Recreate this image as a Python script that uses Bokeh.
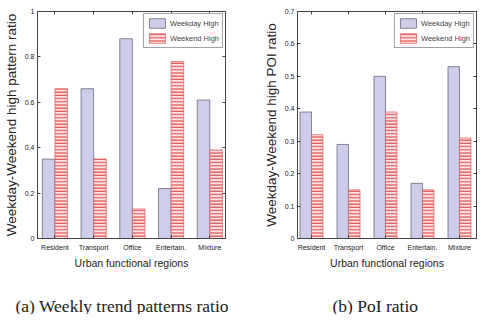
from bokeh.plotting import figure
from bokeh.models import (ColumnDataSource, Range1d, Legend, LegendItem, Label,
                          LinearAxis, FixedTicker)
from bokeh.transform import dodge
from bokeh.layouts import row, column
from bokeh.embed import file_html
from bokeh.resources import INLINE

categories = ["Resident", "Transport", "Office", "Entertain.", "Mixture"]
pattern_weekday = [0.35, 0.66, 0.88, 0.22, 0.61]
pattern_weekend = [0.66, 0.35, 0.13, 0.78, 0.39]
poi_weekday = [0.39, 0.29, 0.50, 0.17, 0.53]
poi_weekend = [0.32, 0.15, 0.39, 0.15, 0.31]
pattern_ticks = [0, 0.2, 0.4, 0.6, 0.8, 1]
poi_ticks = [0, 0.1, 0.2, 0.3, 0.4, 0.5, 0.6, 0.7]
series_names = ["Weekday High", "Weekend High"]
captions = ["(a) Weekly trend patterns ratio", "(b) PoI ratio"]

FONT = "Liberation Sans"
WD_FILL = "#cdcdeb"
WD_LINE = "#5a5a6a"
WE_FILL = "#fbe3e3"
WE_HATCH = "#e25858"
AX = "#444444"


def fmt(v):
    return f"{v:g}"


def mirror_axis(ticks):
    return LinearAxis(ticker=FixedTicker(ticks=ticks),
                      major_label_overrides={t: "" for t in ticks},
                      major_label_standoff=0,
                      major_tick_in=3, major_tick_out=0, minor_tick_line_color=None,
                      axis_line_color=AX, major_tick_line_color=AX)


def make_panel(weekday, weekend, ticks, ymax, ylabel, width, height,
               bl, br, bt, bb, xstart, xend, bw):
    idx = list(range(len(categories)))
    src = ColumnDataSource(dict(x=idx, wd=weekday, we=weekend))
    p = figure(width=width, height=height, output_backend="svg", toolbar_location=None,
               x_range=Range1d(xstart, xend), y_range=Range1d(0, ymax),
               min_border_left=bl, min_border_right=br, min_border_top=bt,
               min_border_bottom=bb)
    p.grid.visible = False
    p.outline_line_color = AX
    p.outline_line_width = 1
    r1 = p.vbar(x=dodge("x", -bw / 2, range=p.x_range), top="wd", width=bw, source=src,
                fill_color=WD_FILL, line_color=WD_LINE, line_width=0.7)
    r2 = p.vbar(x=dodge("x", bw / 2, range=p.x_range), top="we", width=bw, source=src,
                fill_color=WE_FILL, line_color=WE_HATCH, line_width=0.7,
                hatch_pattern="horizontal_line", hatch_color=WE_HATCH,
                hatch_scale=3.2, hatch_weight=1.3)

    xa = p.xaxis[0]
    xa.ticker = FixedTicker(ticks=idx)
    xa.major_label_overrides = {i: c for i, c in zip(idx, categories)}
    xa.axis_label = "Urban functional regions"
    ya = p.yaxis[0]
    ya.ticker = FixedTicker(ticks=ticks)
    ya.major_label_overrides = {t: fmt(t) for t in ticks}
    ya.axis_label = ylabel
    for ax in (xa, ya):
        ax.major_tick_in = 3
        ax.major_tick_out = 0
        ax.minor_tick_line_color = None
        ax.axis_line_color = AX
        ax.major_tick_line_color = AX
        ax.major_label_text_font = FONT
        ax.major_label_text_font_size = "7px"
        ax.major_label_text_color = "#222222"
        ax.axis_label_text_font = FONT
        ax.axis_label_text_font_style = "normal"
        ax.axis_label_text_color = "#222222"
    xa.axis_label_text_font_size = "10.5px"
    ya.axis_label_text_font_size = "13.5px"
    xa.major_label_standoff = 5
    xa.axis_label_standoff = 3
    ya.major_label_standoff = 3
    ya.axis_label_standoff = 3

    p.add_layout(mirror_axis(ticks), "right")
    p.add_layout(mirror_axis(idx), "above")

    leg = Legend(items=[LegendItem(label=series_names[0], renderers=[r1]),
                        LegendItem(label=series_names[1], renderers=[r2])],
                 location="top_right", margin=2, padding=3, spacing=3,
                 glyph_width=20, glyph_height=12, label_text_font=FONT,
                 label_text_font_size="7.5px", label_standoff=3,
                 border_line_color=AX, border_line_width=1,
                 background_fill_alpha=1)
    p.add_layout(leg, "center")
    return p


H = 274
left = make_panel(pattern_weekday, pattern_weekend, pattern_ticks, 1.0,
                  "Weekday-Weekend high pattern ratio",
                  239, H, 31, 14, 7, 36, -0.45, 4.405, 0.325)
right = make_panel(poi_weekday, poi_weekend, poi_ticks, 0.7,
                   "Weekday-Weekend high POI ratio",
                   239, H, 58, 2, 11, 36, -0.378, 4.46, 0.31)

CW, CH = 478, 40
capfig = figure(width=CW, height=CH, output_backend="svg", toolbar_location=None,
                x_range=Range1d(0, 1), y_range=Range1d(0, 1),
                min_border_left=0, min_border_right=0, min_border_top=0,
                min_border_bottom=0)
capfig.axis.visible = False
capfig.grid.visible = False
capfig.outline_line_color = None
for text, cx in zip(captions, [15, 332]):
    capfig.add_layout(Label(x=cx, y=9, x_units="screen", y_units="screen", text=text,
                            text_font="Liberation Serif", text_font_size="17.5px",
                            text_color="#222222", text_baseline="middle",
                            text_align="left"))

lay = column(row(left, right), capfig)
open("out.html", "w").write(file_html(lay, INLINE))
